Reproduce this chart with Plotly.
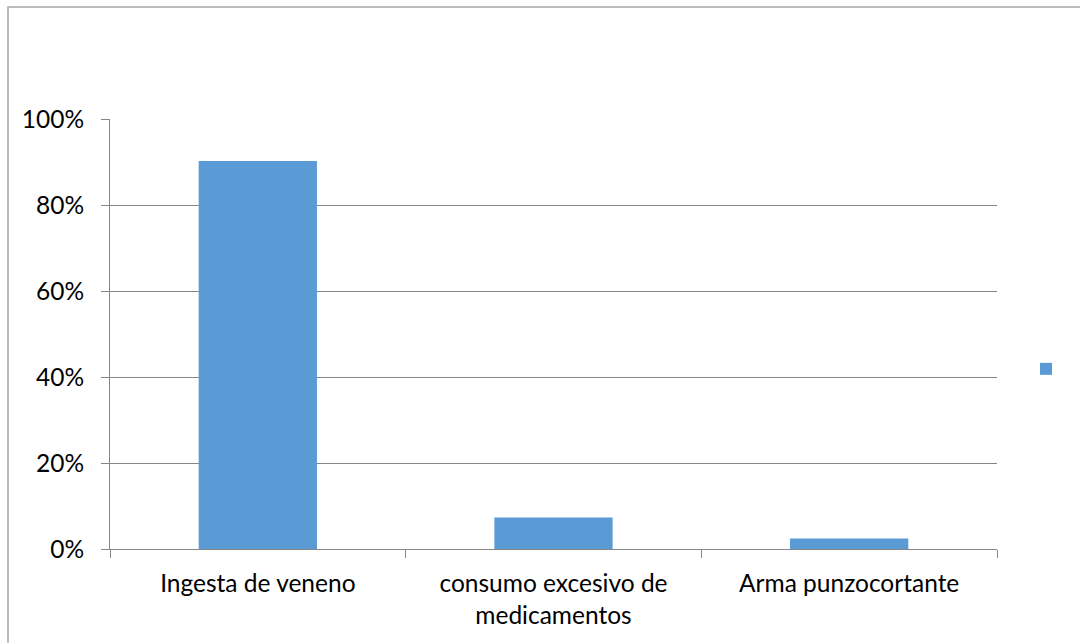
import plotly.graph_objects as go

categories = ["Ingesta de veneno", "consumo excesivo de<br>medicamentos", "Arma punzocortante"]
values = [0.9024, 0.0732, 0.0244]
y_ticks = [0, 0.2, 0.4, 0.6, 0.8, 1.0]
y_tick_labels = ["0%", "20%", "40%", "60%", "80%", "100%"]

W, H = 1080, 643
L, R, T, B = 110, 83, 119, 94
pw, ph = W - L - R, H - T - B

font_family = "Lato, Carlito, Calibri, sans-serif"

fig = go.Figure()
fig.add_trace(go.Bar(
    x=categories, y=values, name=" ",
    marker=dict(color="#5b9bd5", line=dict(width=0)),
    showlegend=True,
))

def px_x(p):
    return (p - L) / pw

def px_y(p):
    return (H - B - p) / ph

fig.update_layout(
    width=W, height=H,
    margin=dict(l=L, r=R, t=T, b=B, pad=0, autoexpand=False),
    paper_bgcolor="white", plot_bgcolor="white",
    font=dict(family=font_family, size=24.5, color="#000000"),
    bargap=0.6,
    showlegend=True,
    legend=dict(x=px_x(1026), y=px_y(369), xanchor="left", yanchor="middle",
                font=dict(size=19), bgcolor="rgba(0,0,0,0)", itemwidth=30),
    xaxis=dict(
        type="category", tickson="boundaries", ticks="outside", ticklen=8,
        tickcolor="#868686", showline=True, linecolor="#868686", linewidth=1,
        showgrid=False, ticklabelstandoff=13, range=[-0.5, 2.5],
    ),
    yaxis=dict(
        range=[0, 1.0], tickvals=y_ticks, ticktext=y_tick_labels,
        ticks="outside", ticklen=8, tickcolor="#868686",
        showline=True, linecolor="#868686", linewidth=1,
        showgrid=True, gridcolor="#868686", gridwidth=1,
        zeroline=False, ticklabelstandoff=12,
    ),
    shapes=[dict(
        type="rect", xref="paper", yref="paper",
        x0=px_x(8), x1=px_x(1095), y0=px_y(660), y1=px_y(7),
        line=dict(color="#a6a6a6", width=1.5), fillcolor="rgba(0,0,0,0)", layer="below",
    )],
)

fig.write_html("out.html")
